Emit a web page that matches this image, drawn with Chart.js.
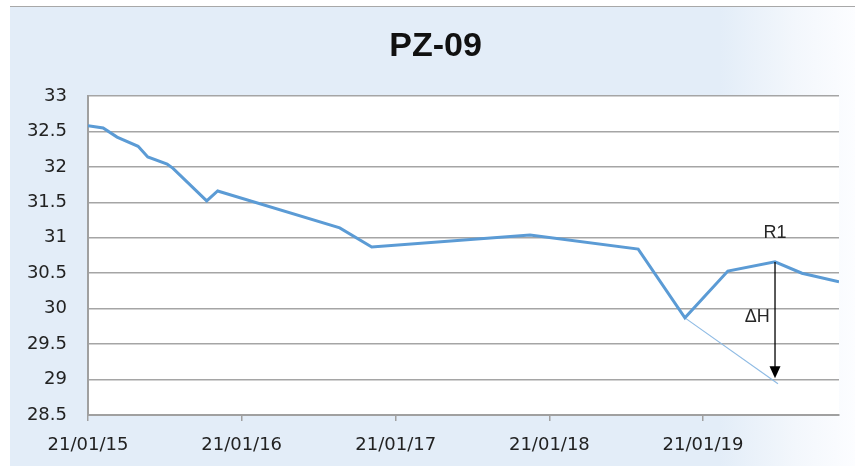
<!DOCTYPE html>
<html>
<head>
<meta charset="utf-8">
<script src="https://cdn.jsdelivr.net/npm/chart.js@4"></script>
<style>
  html, body { margin: 0; padding: 0; background: #fff; }
  #wrap { position: relative; width: 855px; height: 466px; overflow: hidden; }
  #bg {
    position: absolute; left: 10px; top: 6px; right: 0; bottom: 0;
    border-top: 1px solid #a8a8a8;
    background: linear-gradient(to right, #e3edf8 0%, #e3edf8 84%, #f3f7fc 93%, #fcfdff 100%);
  }
  #plotbg { position: absolute; left: 88px; top: 96px; width: 751px; height: 319px; background: #fff; }
  canvas { position: absolute; left: 0; top: 0; }
</style>
</head>
<body>
<div id="wrap">
  <div id="bg"></div>
  <div id="plotbg"></div>
  <canvas id="pzChart" width="855" height="466"></canvas>
</div>
<script>
// measured levels (m) for PZ-09
const dates = [
    "2015-01-21", "2015-02-26", "2015-03-31", "2015-05-20", "2015-06-12",
    "2015-07-28", "2015-08-11", "2015-10-30", "2015-11-25", "2016-09-10",
    "2016-11-25", "2017-12-06", "2018-08-20", "2018-12-09", "2019-03-21",
    "2019-07-11", "2019-09-13", "2019-12-10"
];
const levels = [
    32.58, 32.55, 32.42, 32.29, 32.14,
    32.04, 31.98, 31.52, 31.66, 31.14,
    30.87, 31.04, 30.84, 29.87, 30.53,
    30.66, 30.50, 30.38
];

// extrapolated recession line from the low point
const trendDates = ["2018-12-09", "2019-07-18"];
const trendLevels = [29.87, 28.94];

// R1 arrow (delta H)
const arrowDate = "2019-07-11";
const arrowFrom = 30.66;
const arrowTo = 29.02;

const tickDates = ["2015-01-21", "2016-01-21", "2017-01-21", "2018-01-21", "2019-01-21"];
const tickLabels = ["21/01/15", "21/01/16", "21/01/17", "21/01/18", "21/01/19"];
const xMin = "2015-01-21";
const xMax = "2019-12-10";

const notes = [
    { text: "R1", date: "2019-07-11", level: 31.07 },
    { text: "\u0394H", date: "2019-05-30", level: 29.88 }
];

const toXY = (ds, vs) => ds.map((d, i) => ({ x: Date.parse(d), y: vs[i] }));

const annotatePlugin = {
    id: "annotate",
    afterDatasetsDraw(chart) {
        const ctx = chart.ctx;
        const xs = chart.scales.x, ys = chart.scales.y;
        const ax = xs.getPixelForValue(Date.parse(arrowDate));
        const y0 = ys.getPixelForValue(arrowFrom);
        const y1 = ys.getPixelForValue(arrowTo);
        ctx.save();
        ctx.strokeStyle = "#000";
        ctx.fillStyle = "#000";
        ctx.lineWidth = 1.3;
        ctx.beginPath();
        ctx.moveTo(ax, y0);
        ctx.lineTo(ax, y1 - 10);
        ctx.stroke();
        ctx.beginPath();
        ctx.moveTo(ax - 5.5, y1 - 12);
        ctx.lineTo(ax + 5.5, y1 - 12);
        ctx.lineTo(ax, y1);
        ctx.closePath();
        ctx.fill();

        ctx.font = "18px 'Liberation Sans', Arial, sans-serif";
        ctx.fillStyle = "#262626";
        ctx.textAlign = "center";
        ctx.textBaseline = "middle";
        notes.forEach(n => {
            ctx.fillText(n.text, xs.getPixelForValue(Date.parse(n.date)), ys.getPixelForValue(n.level));
        });
        ctx.restore();
    }
};

const ctx = document.getElementById("pzChart").getContext("2d");
new Chart(ctx, {
    type: "line",
    data: {
        datasets: [{
            label: "PZ-09",
            data: toXY(dates, levels),
            borderColor: "#5b9bd5",
            borderWidth: 3,
            pointRadius: 0,
            tension: 0
        }, {
            label: "trend",
            data: toXY(trendDates, trendLevels),
            borderColor: "#8fbbe4",
            borderWidth: 1.2,
            pointRadius: 0,
            tension: 0
        }]
    },
    options: {
        responsive: false,
        animation: false,
        layout: { padding: { left: 16, right: 0, top: 0, bottom: 0 } },
        plugins: {
            legend: { display: false },
            tooltip: { enabled: false },
            title: {
                display: true,
                text: "PZ-09",
                color: "#111",
                font: { family: "'Liberation Sans', Arial, sans-serif", size: 34, weight: "bold", lineHeight: 1.2 },
                padding: { top: 26, bottom: 29.2 }
            }
        },
        scales: {
            x: {
                type: "linear",
                min: Date.parse(xMin),
                max: Date.parse(xMax),
                afterBuildTicks: scale => {
                    scale.ticks = tickDates.map(d => ({ value: Date.parse(d) }));
                },
                afterFit: scale => { scale.height = 51; },
                ticks: {
                    autoSkip: false,
                    maxRotation: 0,
                    padding: 14,
                    color: "#222",
                    font: { family: "'DejaVu Sans', Verdana, sans-serif", size: 18 },
                    callback: (v, i) => tickLabels[i]
                },
                grid: {
                    drawOnChartArea: false,
                    drawTicks: true,
                    tickLength: 6,
                    color: "#a0a0a0",
                    lineWidth: 1.5
                },
                border: { color: "#a0a0a0", width: 2 }
            },
            y: {
                min: 28.5,
                max: 33,
                afterFit: scale => { scale.width = 72; },
                ticks: {
                    stepSize: 0.5,
                    padding: 21,
                    color: "#222",
                    font: { family: "'DejaVu Sans', Verdana, sans-serif", size: 18 },
                    callback: v => String(Math.round(v * 10) / 10)
                },
                grid: {
                    drawTicks: false,
                    color: "#a5a5a5",
                    lineWidth: 1.5
                },
                border: { color: "#a0a0a0", width: 2 }
            },
            yRight: {
                position: "right",
                min: 28.5,
                max: 33,
                afterFit: scale => { scale.width = 16; },
                ticks: { display: false },
                grid: { display: false, drawOnChartArea: false },
                border: { display: false }
            }
        }
    },
    plugins: [annotatePlugin]
});
</script>
</body>
</html>
